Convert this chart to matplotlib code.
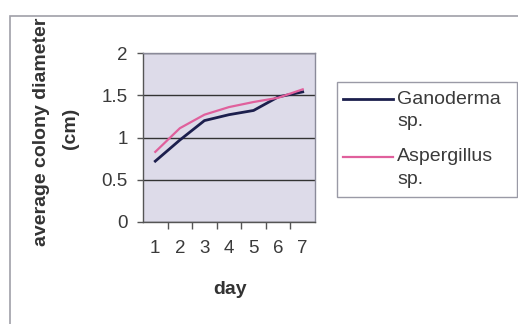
import matplotlib
matplotlib.use("Agg")
import matplotlib.pyplot as plt
from matplotlib.patches import Rectangle
from matplotlib.lines import Line2D
import numpy as np

# DATA ##########################################

days = [1, 2, 3, 4, 5, 6, 7]
ganoderma = [0.72, 0.97, 1.20, 1.27, 1.32, 1.48, 1.54]
aspergillus = [0.83, 1.11, 1.27, 1.36, 1.42, 1.47, 1.57]
series_labels = ["Ganoderma\nsp.", "Aspergillus\nsp."]
series_colors = ["#1c1f4d", "#e0609c"]
y_ticks = [0, 0.5, 1, 1.5, 2]
y_tick_labels = ["0", "0.5", "1", "1.5", "2"]

# SETUP #########################################

plt.rcParams.update({
    "font.family": ["Liberation Sans", "DejaVu Sans"],
    "font.size": 13,
})

W, H = 518, 324
fig = plt.figure(figsize=(W / 100, H / 100), dpi=100)
fig.patch.set_facecolor("white")

def fx(x):
    return x / W

def fy(y):
    return 1 - y / H

def px(x0, y0, x1, y1):
    """pixel box (top-left origin) -> figure fraction rect"""
    return [fx(x0), fy(y1), (x1 - x0) / W, (y1 - y0) / H]

# chart area border
fig.patches.append(Rectangle((fx(10), -0.1), 1.2, 1.1 - 16 / H,
                             transform=fig.transFigure, fill=False,
                             edgecolor="#a0a0a8", linewidth=1.2))

ax = fig.add_axes(px(143, 53, 315, 222))
ax.set_facecolor("#dddbe9")

# PLOTTING ######################################

ax.plot(days, ganoderma, color=series_colors[0], linewidth=2)
ax.plot(days, aspergillus, color=series_colors[1], linewidth=1.6)

# AXES ##########################################

ax.set_xlim(0.5, 7.5)
ax.set_ylim(0, 2)
ax.set_xticks(np.arange(1.5, 7.5, 1))
ax.set_xticks(days, minor=True)
ax.set_xticklabels([])
ax.set_xticklabels([str(d) for d in days], minor=True)
ax.tick_params(axis="x", which="major", length=5, width=1, color="#555555",
               direction="out")
ax.tick_params(axis="x", which="minor", length=0, pad=13, labelsize=13.5,
               labelcolor="#3a3a3a")
ax.set_yticks(y_ticks)
ax.set_yticklabels(y_tick_labels)
ax.tick_params(axis="y", length=4, width=1, color="#555555", pad=7,
               labelsize=13.5, labelcolor="#3a3a3a")

ax.grid(axis="y", color="#333333", linewidth=1)
ax.set_axisbelow(True)
for side in ["top", "right"]:
    ax.spines[side].set_color("#8a8a99")
    ax.spines[side].set_linewidth(1)
for side in ["left", "bottom"]:
    ax.spines[side].set_color("#555555")
    ax.spines[side].set_linewidth(1)

# LABELS ########################################

fig.text(fx(230), fy(290), "day", ha="center", va="center",
         fontsize=14, fontweight="bold", color="#333333")
fig.text(fx(42), fy(132), "average colony diameter", rotation=90,
         ha="center", va="center", fontsize=14, fontweight="bold",
         color="#333333")
fig.text(fx(70), fy(128), "(cm)", rotation=90, ha="center",
         va="center", fontsize=14, fontweight="bold", color="#333333")

# LEGEND ########################################

fig.patches.append(Rectangle((fx(337), fy(197)), (517 - 337) / W,
                             (197 - 82) / H, transform=fig.transFigure,
                             facecolor="white", edgecolor="#9a9aa6",
                             linewidth=1))
for i, (label, color) in enumerate(zip(series_labels, series_colors)):
    y0 = 99 + i * 58
    fig.add_artist(Line2D([fx(343), fx(393)], [fy(y0), fy(y0)],
                          transform=fig.transFigure, color=color,
                          linewidth=2 if i == 0 else 1.6))
    for j, part in enumerate(label.split("\n")):
        fig.text(fx(397), fy(y0 + j * 22), part, ha="left", va="center",
                 fontsize=14, color="#3a3a3a")

fig.savefig("out.png", dpi=100)
